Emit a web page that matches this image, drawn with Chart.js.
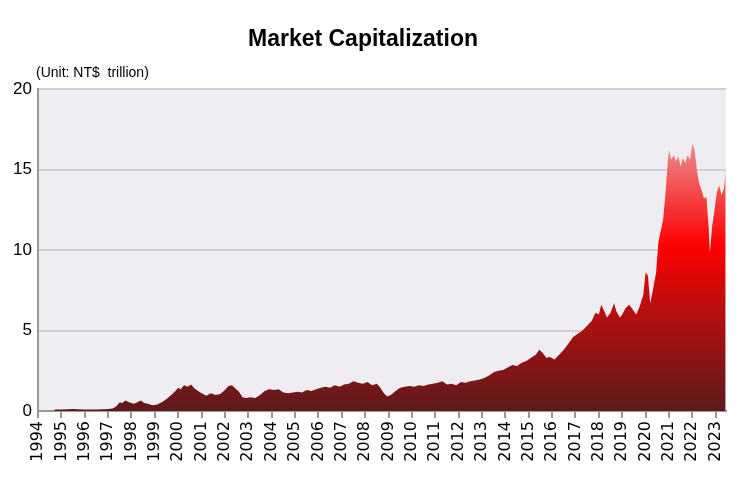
<html lang="en">
<head>
<meta charset="UTF-8">
<title>Market Capitalization</title>
<script src="https://cdn.jsdelivr.net/npm/chart.js@4"></script>
<style>
  body { margin: 0; background: #fff; }
  #wrap { width: 738px; height: 488px; }
</style>
</head>
<body>
<div id="wrap"><canvas id="graph" width="738" height="488"></canvas></div>
<script>
// time in decimal years, value in NT$ trillion
const years = [
  1994.7, 1995.0, 1995.5, 1996.0, 1996.5, 1997.0, 1997.2, 1997.35, 1997.5, 1997.6, 1997.75, 1997.9,
  1998.1, 1998.25, 1998.4, 1998.55, 1998.7, 1998.9, 1999.1, 1999.3, 1999.5, 1999.7, 1999.85,
  2000.0, 2000.1, 2000.25, 2000.4, 2000.55, 2000.7, 2000.85, 2001.0, 2001.2, 2001.4, 2001.6, 2001.8,
  2002.0, 2002.15, 2002.3, 2002.45, 2002.6, 2002.75, 2002.9, 2003.1, 2003.3, 2003.5, 2003.7, 2003.9,
  2004.1, 2004.3, 2004.5, 2004.7, 2004.9, 2005.1, 2005.3, 2005.5, 2005.7, 2005.9, 2006.1, 2006.3,
  2006.5, 2006.7, 2006.9, 2007.1, 2007.3, 2007.5, 2007.7, 2007.9, 2008.1, 2008.3, 2008.5, 2008.65,
  2008.8, 2008.95, 2009.1, 2009.3, 2009.5, 2009.7, 2009.9, 2010.1, 2010.3, 2010.5, 2010.7, 2010.9,
  2011.1, 2011.3, 2011.5, 2011.7, 2011.9, 2012.1, 2012.3, 2012.5, 2012.7, 2012.9, 2013.1, 2013.3,
  2013.5, 2013.7, 2013.9, 2014.1, 2014.3, 2014.5, 2014.7, 2014.9, 2015.1, 2015.3, 2015.45, 2015.6,
  2015.75, 2015.9, 2016.1, 2016.3, 2016.5, 2016.7, 2016.9, 2017.1, 2017.3, 2017.5, 2017.7, 2017.85,
  2018.0, 2018.1, 2018.2, 2018.35, 2018.5, 2018.65, 2018.75, 2018.9, 2019.0, 2019.15, 2019.3, 2019.45,
  2019.6, 2019.75, 2019.9, 2020.0, 2020.1, 2020.2, 2020.3, 2020.45, 2020.55, 2020.65, 2020.75, 2020.85,
  2020.95, 2021.0, 2021.1, 2021.2, 2021.3, 2021.4, 2021.5, 2021.6, 2021.7, 2021.8, 2021.9, 2022.0,
  2022.1, 2022.2, 2022.3, 2022.4, 2022.5, 2022.6, 2022.7, 2022.75, 2022.85, 2022.95, 2023.05, 2023.15,
  2023.25, 2023.35, 2023.43
];
const capValues = [
  0.1, 0.1, 0.12, 0.1, 0.1, 0.12, 0.15, 0.3, 0.55, 0.5, 0.65, 0.55,
  0.45, 0.55, 0.65, 0.5, 0.45, 0.35, 0.4, 0.55, 0.75, 1.0, 1.2,
  1.45, 1.35, 1.6, 1.5, 1.65, 1.4, 1.25, 1.1, 0.95, 1.1, 1.0, 1.05,
  1.3, 1.55, 1.6, 1.4, 1.2, 0.85, 0.8, 0.85, 0.8, 1.0, 1.25, 1.35,
  1.3, 1.35, 1.15, 1.1, 1.15, 1.2, 1.15, 1.3, 1.25, 1.35, 1.45, 1.5,
  1.45, 1.6, 1.5, 1.65, 1.7, 1.85, 1.75, 1.7, 1.8, 1.6, 1.7, 1.45,
  1.1, 0.9, 1.0, 1.25, 1.45, 1.5, 1.55, 1.5, 1.6, 1.55, 1.65, 1.7,
  1.75, 1.85, 1.65, 1.7, 1.6, 1.8, 1.75, 1.85, 1.9, 1.95, 2.05, 2.2,
  2.4, 2.5, 2.55, 2.7, 2.85, 2.8, 3.0, 3.1, 3.3, 3.5, 3.8, 3.6,
  3.3, 3.35, 3.2, 3.5, 3.8, 4.2, 4.6, 4.8, 5.0, 5.3, 5.6, 6.1,
  6.0, 6.6, 6.3, 5.8, 6.1, 6.7, 6.2, 5.8, 6.0, 6.4, 6.6, 6.3,
  6.0, 6.5, 7.2, 8.6, 8.4, 6.7, 7.4, 8.6, 10.5, 11.2, 11.9, 13.5,
  15.5, 16.2, 15.6, 15.9, 15.5, 15.8, 15.2, 15.7, 15.4, 15.9, 15.6, 16.6,
  16.2, 14.9, 14.1, 13.7, 13.2, 13.3, 11.4, 9.8, 11.5, 12.5, 13.6, 14.0,
  13.4, 13.8, 14.9
];
const yearTicks = [];
for (let y = 1994; y <= 2023; y++) yearTicks.push(y);

const points = years.map((y, i) => ({ x: y, y: capValues[i] }));

const textPlugin = {
  id: 'texts',
  beforeDraw(chart) {
    const { ctx, chartArea: a } = chart;
    ctx.save();
    ctx.fillStyle = '#efedf1';
    ctx.fillRect(a.left, a.top, a.right - a.left, a.bottom - a.top);
    ctx.restore();
  },
  afterDraw(chart) {
    const { ctx } = chart;
    ctx.save();
    ctx.fillStyle = '#000';
    ctx.textBaseline = 'middle';
    ctx.textAlign = 'center';
    ctx.font = 'bold 23px "Liberation Sans", Arial, sans-serif';
    ctx.fillText('Market Capitalization', 363, 40);
    ctx.textAlign = 'left';
    ctx.font = '14px "Liberation Sans", Arial, sans-serif';
    ctx.fillText('(Unit: NT$  trillion)', 36, 73);
    ctx.restore();
  }
};

const ctx = document.getElementById('graph').getContext('2d');
new Chart(ctx, {
  type: 'line',
  data: {
    datasets: [{
      data: points,
      fill: 'origin',
      borderWidth: 0,
      pointRadius: 0,
      tension: 0,
      backgroundColor(c) {
        const a = c.chart.chartArea;
        if (!a) return '#8b1a1a';
        const ys = c.chart.scales.y;
        const g = c.chart.ctx.createLinearGradient(0, a.bottom, 0, ys.getPixelForValue(16.5));
        g.addColorStop(0, '#5e1a1c');
        g.addColorStop(0.35, '#b01010');
        g.addColorStop(0.62, '#ff0000');
        g.addColorStop(1, '#e98a8e');
        return g;
      }
    }]
  },
  options: {
    responsive: false,
    animation: false,
    layout: { padding: { top: 89, right: 7, left: 0, bottom: 0 } },
    plugins: { legend: { display: false }, tooltip: { enabled: false } },
    scales: {
      x: {
        type: 'linear',
        min: 1994,
        max: 2023.43,
        afterBuildTicks(s) { s.ticks = yearTicks.map(v => ({ value: v })); },
        afterFit(s) { s.height = 77; },
        border: { color: '#999', width: 2 },
        grid: { drawOnChartArea: false, drawTicks: true, tickLength: 7, color: '#999', lineWidth: 2 },
        ticks: {
          autoSkip: false,
          maxRotation: 90,
          minRotation: 90,
          color: '#000',
          font: { size: 16, family: '"DejaVu Sans", sans-serif' },
          callback: v => String(v)
        }
      },
      y: {
        min: 0,
        max: 20,
        afterFit(s) { s.width = 38; },
        border: { color: '#999', width: 2 },
        grid: { color: '#d0d0d0', lineWidth: 2, drawTicks: false },
        ticks: {
          stepSize: 5,
          padding: 6,
          color: '#000',
          font: { size: 17, family: '"Liberation Sans", Arial, sans-serif' }
        }
      }
    }
  },
  plugins: [textPlugin]
});
</script>
</body>
</html>
